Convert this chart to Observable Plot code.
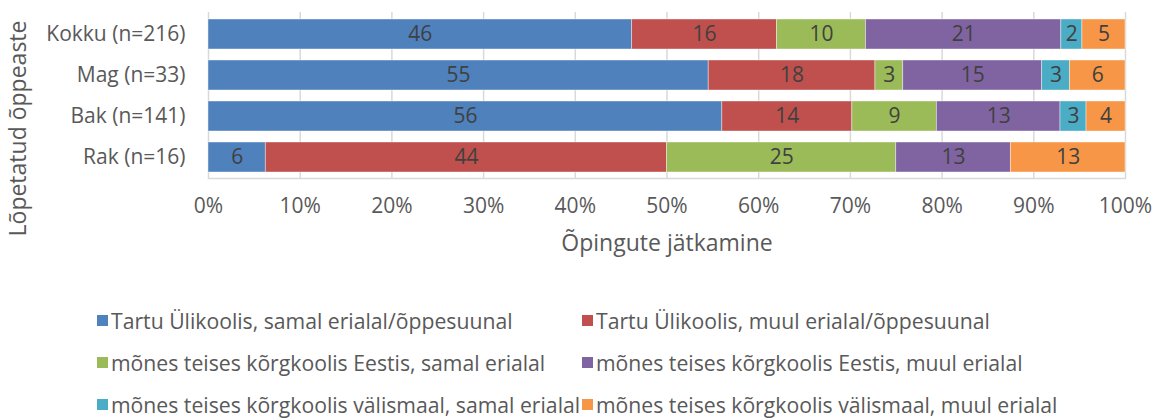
<!DOCTYPE html>
<html>
<head>
<meta charset="utf-8">
<script src="https://cdn.jsdelivr.net/npm/d3@7"></script>
<script src="https://cdn.jsdelivr.net/npm/@observablehq/plot@0.6"></script>
<style>
  html, body { margin: 0; padding: 0; background: #fff; }
  #wrap { position: relative; width: 1154px; height: 419px; font-family: "Open Sans", sans-serif; color: #595959; }
  #chart { position: absolute; left: 0; top: 0; }
  #legend { position: absolute; left: 0; top: 299px; width: 1154px; }
  .lrow { position: relative; height: 42px; }
  .litem { position: absolute; top: 0; height: 42px; display: flex; align-items: center; font-size: 21.2px; white-space: nowrap; }
  .sw { width: 11px; height: 11px; margin-right: 3px; flex: none; }
</style>
</head>
<body>
<div id="wrap"><div id="chart"></div><div id="legend"></div></div>
<script>
const categories = ["Kokku (n=216)", "Mag (n=33)", "Bak (n=141)", "Rak (n=16)"];
const seriesNames = [
  "Tartu Ülikoolis, samal erialal/õppesuunal",
  "Tartu Ülikoolis, muul erialal/õppesuunal",
  "mõnes teises kõrgkoolis Eestis, samal erialal",
  "mõnes teises kõrgkoolis Eestis, muul erialal",
  "mõnes teises kõrgkoolis välismaal, samal erialal",
  "mõnes teises kõrgkoolis välismaal, muul erialal"
];
const colors = ["#4F81BD", "#C0504D", "#9BBB59", "#8064A2", "#4BACC6", "#F79646"];
// percentages per category (Kokku, Mag, Bak, Rak)
const tartuSame   = [46.2, 54.55, 56.03, 6.25];
const tartuOther  = [15.8, 18.18, 14.18, 43.75];
const estSame     = [9.7,  3.03,  9.22,  25.0];
const estOther    = [21.3, 15.15, 13.48, 12.5];
const abroadSame  = [2.3,  3.03,  2.84,  0];
const abroadOther = [4.7,  6.06,  4.26,  12.5];
const xTicks = [0, 10, 20, 30, 40, 50, 60, 70, 80, 90, 100];
const xTitle = "Õpingute jätkamine";
const yTitle = "Lõpetatud õppeaste";

const seriesValues = [tartuSame, tartuOther, estSame, estOther, abroadSame, abroadOther];
const data = [];
seriesNames.forEach((s, si) => {
  categories.forEach((c, ci) => {
    data.push({cat: c, series: s, value: seriesValues[si][ci]});
  });
});

const font = "Open Sans";
const chart = Plot.plot({
  width: 1154,
  height: 280,
  marginLeft: 208,
  marginRight: 29,
  marginTop: 12,
  marginBottom: 102,
  style: {fontFamily: font, fontSize: "21px", color: "#595959", background: "transparent"},
  x: {domain: [0, 100], ticks: xTicks, tickFormat: d => d + "%"},
  y: {domain: categories, paddingInner: 0.28, paddingOuter: 0.14},
  color: {domain: seriesNames, range: colors},
  marks: [
    Plot.gridX(xTicks, {stroke: "#d9d9d9", strokeOpacity: 1, strokeWidth: 1.5}),
    Plot.frame({anchor: "bottom", stroke: "#d9d9d9", strokeWidth: 1.5}),
    Plot.barX(data, Plot.stackX({x: "value", y: "cat", fill: "series", z: "series", order: seriesNames, stroke: "#ffffff", strokeOpacity: 0.5, strokeWidth: 0.8})),
    Plot.text(data, Plot.stackX({x: "value", y: "cat", z: "series", order: seriesNames,
      text: d => d.value > 0 ? String(Math.round(d.value)) : "", fill: "#404040", fontSize: 21})),
    Plot.axisX({ticks: xTicks, tickSize: 0, tickPadding: 20, tickFormat: d => d + "%", label: null, fill: "#595959", fontSize: 21}),
    Plot.axisY({tickSize: 0, tickPadding: 23, label: null, fill: "#595959", fontSize: 21}),
    Plot.text([xTitle], {frameAnchor: "bottom", dy: 65, lineAnchor: "middle", fill: "#595959", fontSize: 23}),
    Plot.text([yTitle], {frameAnchor: "left", dx: -190, dy: 33, rotate: -90, textAnchor: "middle", lineAnchor: "middle", fill: "#595959", fontSize: 23})
  ]
});
document.getElementById("chart").appendChild(chart);

const legend = document.getElementById("legend");
const colLefts = [97, 582];
for (let r = 0; r < 3; r++) {
  const row = document.createElement("div");
  row.className = "lrow";
  for (let c = 0; c < 2; c++) {
    const i = r * 2 + c;
    const item = document.createElement("div");
    item.className = "litem";
    item.style.left = colLefts[c] + "px";
    const sw = document.createElement("span");
    sw.className = "sw";
    sw.style.background = colors[i];
    const t = document.createElement("span");
    t.textContent = seriesNames[i];
    item.appendChild(sw); item.appendChild(t);
    row.appendChild(item);
  }
  legend.appendChild(row);
}
</script>
</body>
</html>
